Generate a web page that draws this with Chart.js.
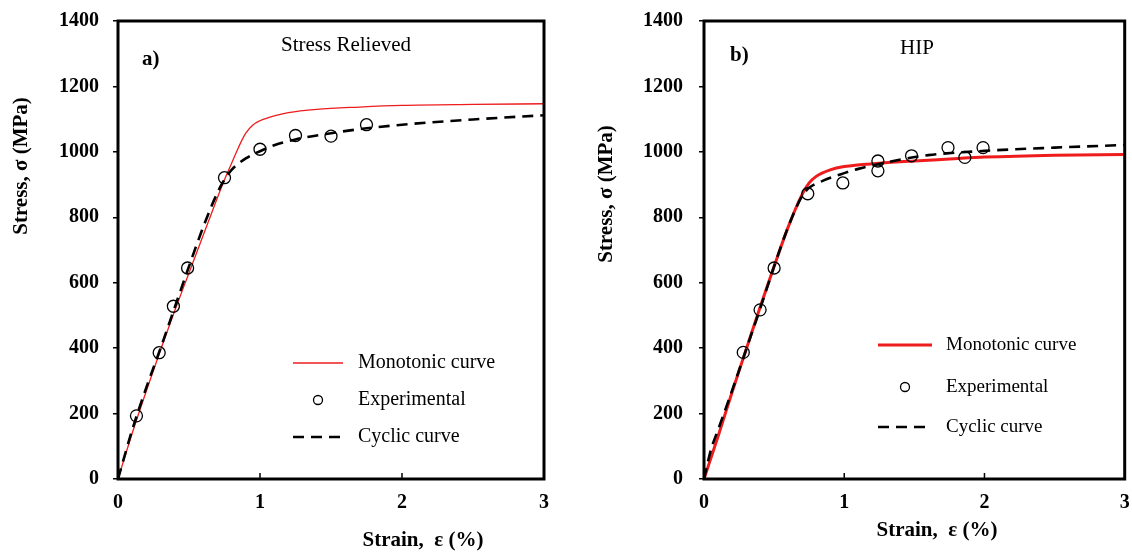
<!DOCTYPE html>
<html>
<head>
<meta charset="utf-8">
<script src="https://cdn.jsdelivr.net/npm/chart.js@4.4.1/dist/chart.umd.min.js"></script>
<style>
  body { margin: 0; background: #fff; }
  #wrap { position: relative; width: 1132px; height: 554px; }
  canvas { position: absolute; top: 0; }
</style>
</head>
<body>
<div id="wrap">
  <canvas id="chart-a" width="566" height="554" style="left:0"></canvas>
  <canvas id="chart-b" width="566" height="554" style="left:566px"></canvas>
</div>
<script>
// a) Stress Relieved
const srMonoStrain = [0, 0.1, 0.2, 0.3, 0.4, 0.5, 0.6, 0.7, 0.75, 0.8, 0.85, 0.9, 0.95, 1.0, 1.1, 1.2, 1.4, 1.7, 2.0, 2.5, 3.0];
const srMonoStress = [0, 140, 270, 395, 515, 630, 745, 860, 915, 965, 1015, 1057, 1082, 1095, 1110, 1120, 1130, 1137, 1142, 1145, 1147];
const srCyclStrain = [0, 0.1, 0.2, 0.3, 0.4, 0.5, 0.6, 0.7, 0.75, 0.8, 0.9, 1.0, 1.1, 1.25, 1.5, 1.75, 2.0, 2.5, 3.0];
const srCyclStress = [0, 150, 280, 400, 525, 650, 770, 875, 915, 945, 980, 1002, 1020, 1038, 1057, 1072, 1083, 1099, 1112];
const srExpStrain = [0.13, 0.29, 0.39, 0.49, 0.75, 1.0, 1.25, 1.5, 1.75];
const srExpStress = [193, 386, 528, 645, 921, 1008, 1050, 1048, 1083];

// b) HIP
const hipMonoStrain = [0, 0.1, 0.2, 0.3, 0.4, 0.5, 0.6, 0.7, 0.75, 0.8, 0.9, 1.0, 1.25, 1.5, 1.75, 2.0, 2.5, 3.0];
const hipMonoStress = [0, 130, 265, 395, 525, 650, 770, 870, 905, 925, 945, 955, 965, 972, 978, 984, 990, 992];
const hipCyclStrain = [0, 0.05, 0.1, 0.2, 0.3, 0.4, 0.5, 0.6, 0.7, 0.75, 0.85, 1.0, 1.1, 1.35, 1.6, 2.0, 2.5, 3.0];
const hipCyclStress = [0, 90, 150, 270, 395, 520, 650, 770, 865, 890, 912, 935, 948, 972, 990, 1003, 1013, 1021];
const hipExpStrain = [0.28, 0.40, 0.50, 0.74, 0.99, 1.24, 1.24, 1.48, 1.74, 1.86, 1.99];
const hipExpStress = [387, 517, 645, 872, 905, 972, 942, 988, 1013, 983, 1013];

const xTicks = [0, 1, 2, 3];
const yTicks = [0, 200, 400, 600, 800, 1000, 1200, 1400];
const legendLabels = ["Monotonic curve", "Experimental", "Cyclic curve"];

const SERIF = "'Liberation Serif', 'Times New Roman', serif";

function pts(xs, ys) {
    return xs.map((x, i) => ({ x: x, y: ys[i] }));
}

// dibuja el marco, ticks internos, titulos, anotaciones y leyenda
const decor = {
    id: 'decor',
    afterDraw(chart, args, o) {
        const ctx = chart.ctx;
        const a = chart.chartArea;
        const xs = chart.scales.x;
        ctx.save();
        ctx.strokeStyle = '#000';
        ctx.lineWidth = 3;
        ctx.setLineDash([]);
        ctx.strokeRect(a.left, a.top, a.right - a.left, a.bottom - a.top);

        ctx.lineWidth = 1.5;
        xTicks.forEach(v => {
            const px = xs.getPixelForValue(v);
            ctx.beginPath();
            ctx.moveTo(px, a.bottom);
            ctx.lineTo(px, a.bottom - 6);
            ctx.stroke();
        });

        ctx.fillStyle = '#000';
        ctx.textAlign = 'center';
        ctx.textBaseline = 'middle';
        ctx.font = 'bold ' + o.titleSize + 'px ' + SERIF;
        ctx.fillText('Strain,  \u03b5 (%)', o.xTitle[0], o.xTitle[1]);
        ctx.save();
        ctx.translate(o.yTitle[0], o.yTitle[1]);
        ctx.rotate(-Math.PI / 2);
        ctx.fillText('Stress, \u03c3 (MPa)', 0, 0);
        ctx.restore();

        ctx.font = 'bold 21px ' + SERIF;
        ctx.textAlign = 'left';
        ctx.fillText(o.tag, o.tagPos[0], o.tagPos[1]);
        ctx.font = '21px ' + SERIF;
        ctx.textAlign = 'center';
        ctx.fillText(o.label, o.labelPos[0], o.labelPos[1]);

        // leyenda
        const order = [0, 2, 1];
        ctx.font = o.legendSize + 'px ' + SERIF;
        ctx.textAlign = 'left';
        order.forEach((di, row) => {
            const ds = chart.data.datasets[di];
            const y = o.legendRows[row];
            if (di === 2) {
                ctx.lineWidth = 1.3;
                ctx.strokeStyle = '#000';
                ctx.setLineDash([]);
                ctx.beginPath();
                ctx.arc((o.legendLine[0] + o.legendLine[1]) / 2, y, 4.5, 0, Math.PI * 2);
                ctx.stroke();
            } else {
                ctx.lineWidth = ds.borderWidth;
                ctx.strokeStyle = ds.borderColor;
                ctx.setLineDash(ds.borderDash || []);
                ctx.beginPath();
                ctx.moveTo(o.legendLine[0], y);
                ctx.lineTo(o.legendLine[1], y);
                ctx.stroke();
            }
            ctx.setLineDash([]);
            ctx.fillText(legendLabels[row], o.legendText, y);
        });
        ctx.restore();
    }
};

function makeChart(id, mono, cycl, exp, monoWidth, look) {
    let ctx = document.getElementById(id).getContext("2d");
    return new Chart(ctx, {
        type: 'scatter',
        data: {
            datasets: [{
                label: legendLabels[0],
                data: mono,
                showLine: true,
                borderColor: '#ee1c1c',
                borderWidth: monoWidth,
                pointRadius: 0,
                cubicInterpolationMode: 'monotone',
                order: 2
            },
            {
                label: legendLabels[2],
                data: cycl,
                showLine: true,
                borderColor: '#000',
                borderWidth: 2.6,
                borderDash: [11, 7],
                pointRadius: 0,
                cubicInterpolationMode: 'monotone',
                order: 1
            },
            {
                label: legendLabels[1],
                data: exp,
                showLine: false,
                borderColor: '#000',
                backgroundColor: 'rgba(0,0,0,0)',
                borderWidth: 1.3,
                pointRadius: 6,
                order: 0
            }]
        },
        options: {
            responsive: false,
            animation: false,
            layout: { padding: { top: 21, right: look.padRight, left: 0, bottom: 0 } },
            plugins: {
                legend: { display: false },
                tooltip: { enabled: false },
                decor: look
            },
            scales: {
                x: {
                    type: 'linear',
                    min: 0,
                    max: 3,
                    afterFit: s => { s.height = 75; s.paddingLeft = 0; s.paddingRight = 0; },
                    afterBuildTicks: s => { s.ticks = xTicks.map(v => ({ value: v })); },
                    ticks: {
                        color: '#000',
                        font: { family: SERIF, size: 20, weight: 'bold' },
                        padding: 12,
                        maxRotation: 0,
                        callback: v => String(v)
                    },
                    grid: { drawOnChartArea: false, drawTicks: false },
                    border: { display: false }
                },
                y: {
                    min: 0,
                    max: 1400,
                    afterFit: s => { s.width = look.axisWidth; s.paddingTop = 0; s.paddingBottom = 0; },
                    afterBuildTicks: s => { s.ticks = yTicks.map(v => ({ value: v })); },
                    ticks: {
                        color: '#000',
                        font: { family: SERIF, size: 20, weight: 'bold' },
                        padding: look.yPad,
                        callback: v => String(v)
                    },
                    grid: { drawOnChartArea: false, drawTicks: true, tickLength: 5, color: '#000', lineWidth: 1.5 },
                    border: { display: false }
                }
            }
        },
        plugins: [decor]
    });
}

makeChart("chart-a",
    pts(srMonoStrain, srMonoStress),
    pts(srCyclStrain, srCyclStress),
    pts(srExpStrain, srExpStress),
    1.3,
    {
        padRight: 22, axisWidth: 118, yPad: 14,
        titleSize: 21, xTitle: [423, 541], yTitle: [22, 166],
        tag: 'a)', tagPos: [142, 60], label: 'Stress Relieved', labelPos: [346, 45],
        legendSize: 20, legendLine: [293, 343], legendText: 358, legendRows: [363, 400, 437]
    });

makeChart("chart-b",
    pts(hipMonoStrain, hipMonoStress),
    pts(hipCyclStrain, hipCyclStress),
    pts(hipExpStrain, hipExpStress),
    3,
    {
        padRight: 6, axisWidth: 138, yPad: 16,
        titleSize: 21, xTitle: [371, 531], yTitle: [41, 194],
        tag: 'b)', tagPos: [164, 56], label: 'HIP', labelPos: [351, 48],
        legendSize: 19, legendLine: [312, 366], legendText: 380, legendRows: [345, 387, 427]
    });
</script>
</body>
</html>
